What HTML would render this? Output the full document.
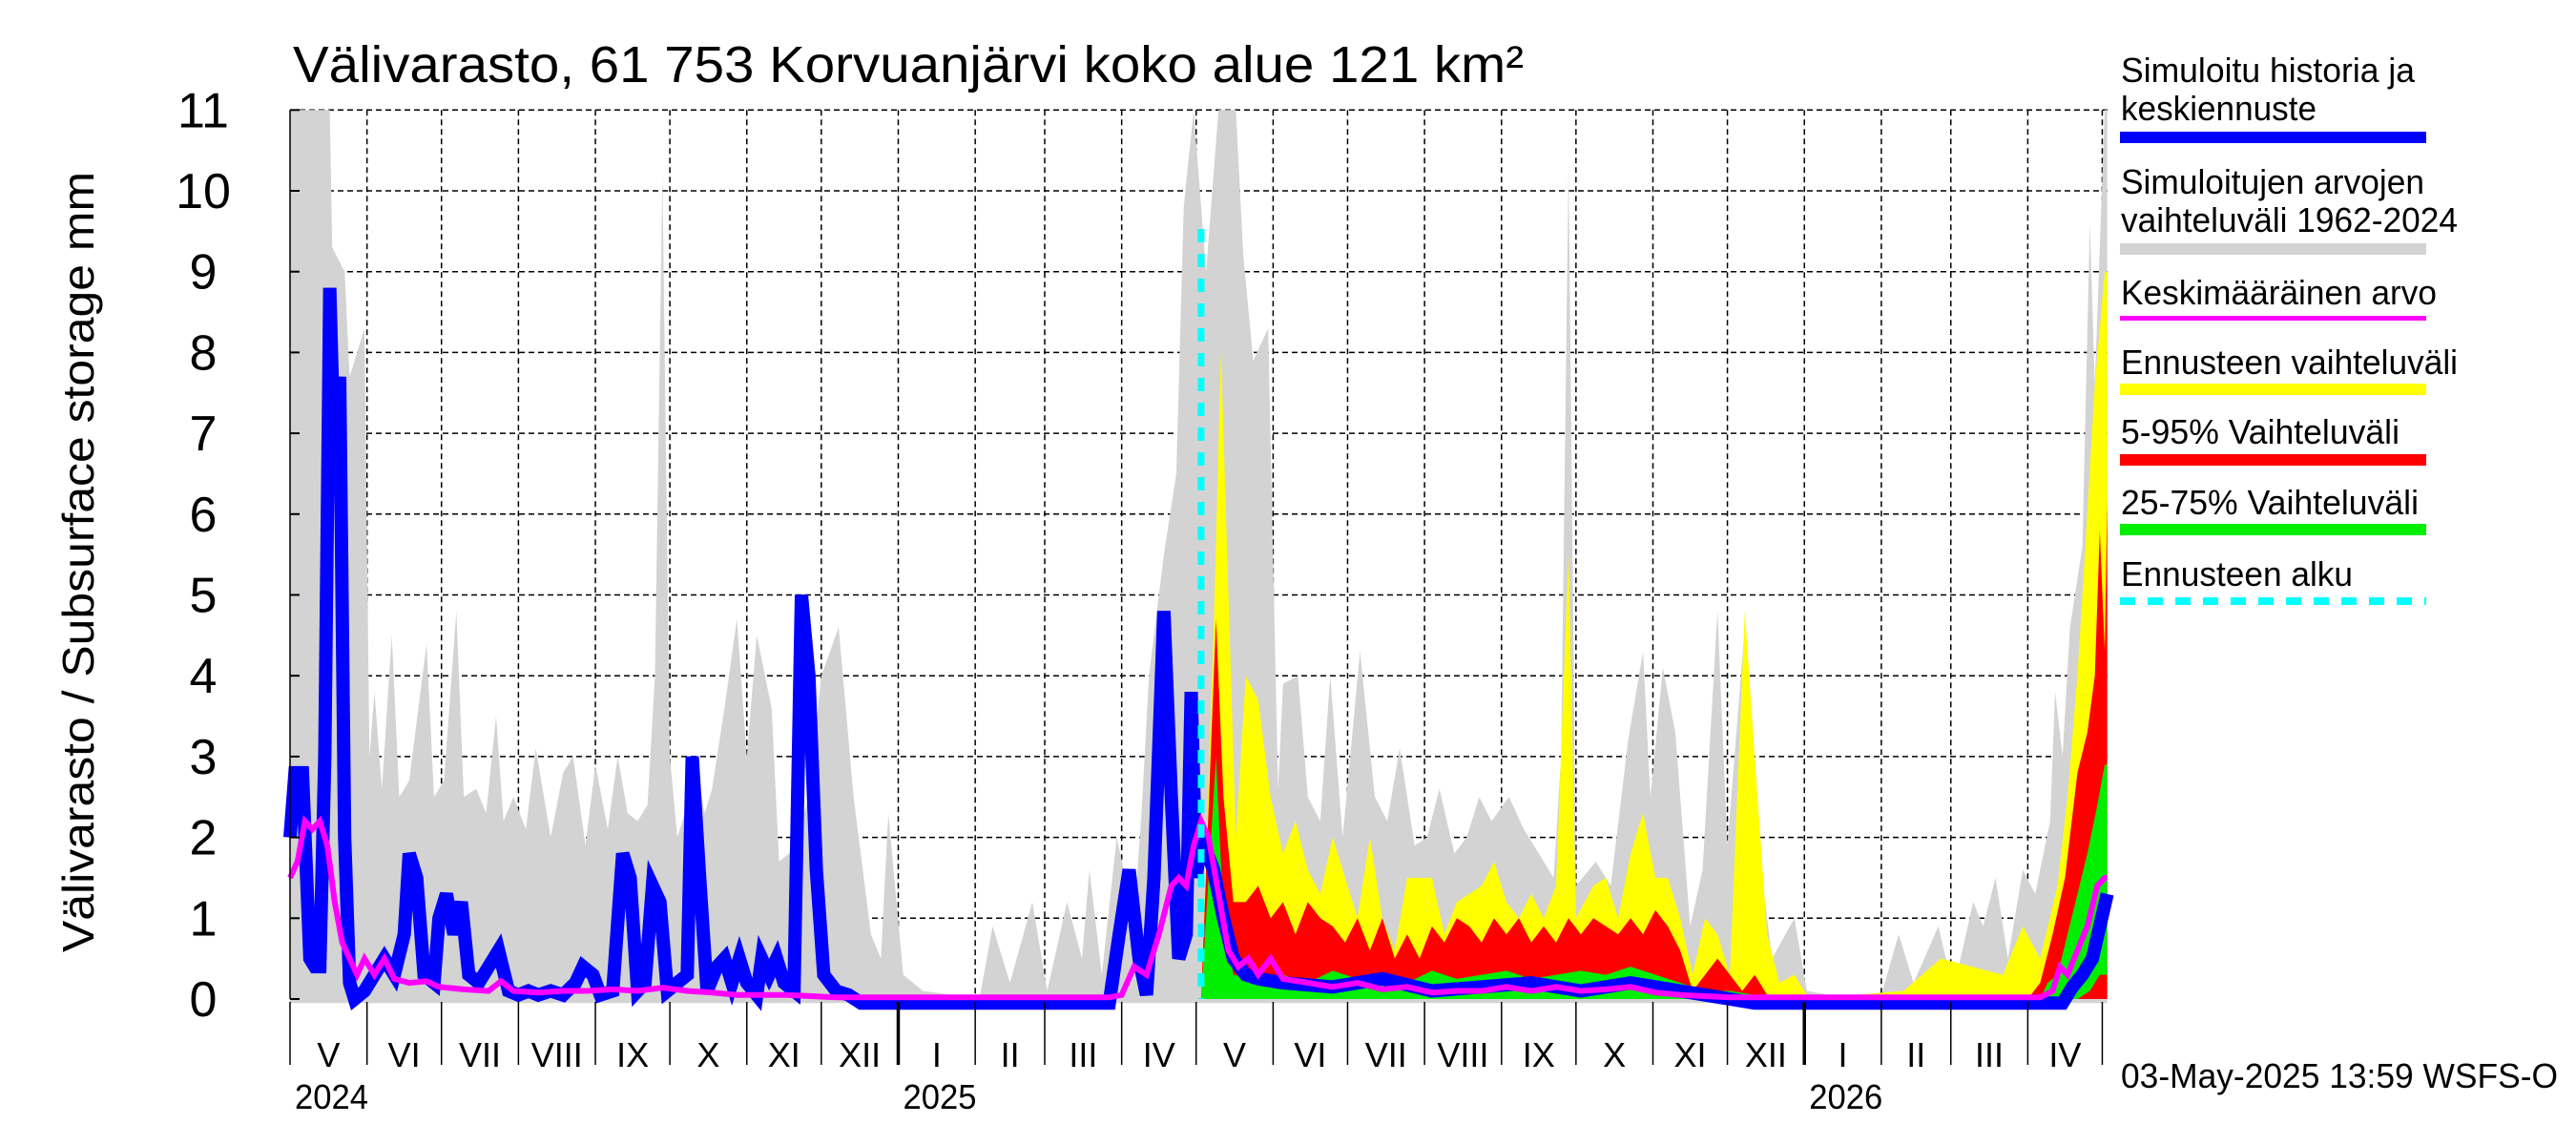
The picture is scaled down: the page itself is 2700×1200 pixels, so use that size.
<!DOCTYPE html>
<html><head><meta charset="utf-8"><title>Välivarasto</title>
<style>
html,body{margin:0;padding:0;background:#fff;}
svg{display:block;font-family:"Liberation Sans",Arial,sans-serif;}
</style></head>
<body>
<svg id="chart" xmlns="http://www.w3.org/2000/svg" width="2700" height="1200" viewBox="0 0 2700 1200">
<rect x="0" y="0" width="2700" height="1200" fill="#fff"/>
<g id="grid"></g>
<g id="data"></g>
<g id="axes"></g>
<text x="307" y="86" font-size="54" textLength="1290" lengthAdjust="spacingAndGlyphs">Välivarasto, 61 753 Korvuanjärvi koko alue 121 km²</text>
<text transform="translate(98,589) rotate(-90)" text-anchor="middle" font-size="46" textLength="818" lengthAdjust="spacingAndGlyphs">Välivarasto / Subsurface storage  mm</text>
<g>
<text x="2223" y="86" font-size="36" textLength="308" lengthAdjust="spacingAndGlyphs">Simuloitu historia ja</text>
<text x="2223" y="126" font-size="36" textLength="205" lengthAdjust="spacingAndGlyphs">keskiennuste</text>
<rect x="2222" y="138" width="321" height="12" fill="#0000ff"/>
<text x="2223" y="203" font-size="36" textLength="318" lengthAdjust="spacingAndGlyphs">Simuloitujen arvojen</text>
<text x="2223" y="243" font-size="36" textLength="353" lengthAdjust="spacingAndGlyphs">vaihteluväli 1962-2024</text>
<rect x="2222" y="255" width="321" height="12" fill="#d3d3d3"/>
<text x="2223" y="319" font-size="36" textLength="331" lengthAdjust="spacingAndGlyphs">Keskimääräinen arvo</text>
<rect x="2222" y="331" width="321" height="5" fill="#ff00ff"/>
<text x="2223" y="392" font-size="36" textLength="353" lengthAdjust="spacingAndGlyphs">Ennusteen vaihteluväli</text>
<rect x="2222" y="402" width="321" height="12" fill="#ffff00"/>
<text x="2223" y="465" font-size="36" textLength="292" lengthAdjust="spacingAndGlyphs">5-95% Vaihteluväli</text>
<rect x="2222" y="476" width="321" height="12" fill="#ff0000"/>
<text x="2223" y="539" font-size="36" textLength="312" lengthAdjust="spacingAndGlyphs">25-75% Vaihteluväli</text>
<rect x="2222" y="549" width="321" height="12" fill="#00ee00"/>
<text x="2223" y="614" font-size="36" textLength="243" lengthAdjust="spacingAndGlyphs">Ennusteen alku</text>
<line x1="2222" y1="630" x2="2543" y2="630" stroke="#00ffff" stroke-width="8" stroke-dasharray="16,13"/>
</g>
<text x="2223" y="1140" font-size="36" textLength="458" lengthAdjust="spacingAndGlyphs">03-May-2025 13:59 WSFS-O</text>
</svg>
<script>
// ---- data ----
const greyDays=[0,16,17,22,24,30,32,34,37,41,44,48,55,58,62,67,70,75,79,83,86,90,95,99,105,110,114,119,123,128,132,136,140,144,147,150,153,156,160,163,167,170,175,180,184,188,194,197,201,204,209,214,221,227,234,238,241,247,255,267,278,283,290,299,305,313,319,322,327,333,340,343,346,352,357,360,364,369,374,381,384,388,394,398,400,406,410,415,419,424,431,437,442,447,453,458,463,469,474,479,484,491,497,503,509,512,515,518,526,532,539,545,548,553,558,564,569,575,579,586,591,597,606,611,620,641,648,654,664,670,678,682,687,692,698,703,709,711,714,717,722,725,727,729,731,732];
const greyMax=[11,11,9.3,9.0,7.7,8.3,3.0,3.8,2.6,4.5,2.5,2.7,4.4,2.5,2.7,4.8,2.5,2.6,2.3,3.5,2.2,2.5,2.1,3.1,2.0,2.8,3.0,1.9,2.9,2.1,3.0,2.3,2.2,2.4,4.0,10.2,3.0,2.0,2.4,3.0,2.3,2.6,3.6,4.7,3.0,4.5,3.6,1.7,1.8,2.0,2.5,4.0,4.6,2.5,0.8,0.5,2.3,0.3,0.1,0.05,0.05,0.9,0.2,1.2,0.1,1.2,0.5,1.6,0.3,2.0,1.0,2.3,4.0,5.5,6.5,9.8,11,9.0,11,11,9.2,7.9,8.3,2.6,3.9,4.0,2.5,2.2,4.0,2.0,4.3,2.5,2.2,3.1,1.9,2.0,2.6,1.8,2.0,2.5,2.2,2.5,2.1,1.8,1.5,3.0,10.3,1.4,1.7,1.4,3.2,4.3,2.5,4.1,3.3,0.9,1.6,4.8,1.9,4.6,2.0,0.5,1.0,0.1,0.05,0.05,0.8,0.2,0.9,0.1,1.2,0.9,1.5,0.5,1.6,1.3,2.2,3.8,3.0,4.6,5.6,9.6,7.6,9.3,11,11];

const yelDays=[367,372,375,378,381,385,390,395,400,405,410,415,420,425,430,435,440,445,450,460,465,470,480,485,490,495,500,505,510,515,518,525,530,535,540,545,550,555,560,565,570,575,580,586,590,595,600,606,612,650,665,690,698,705,712,716,720,723,727,731,732];
const yelMax=[0,4.5,8.0,5.0,2.0,4.0,3.7,2.5,1.8,2.2,1.6,1.3,2.0,1.5,1.0,2.0,1.0,0.6,1.5,1.5,0.8,1.2,1.4,1.7,1.2,1.0,1.3,1.0,1.4,5.5,1.0,1.4,1.5,1.0,1.8,2.3,1.5,1.5,1.0,0.3,1.0,0.8,0.3,4.8,3.0,0.8,0.2,0.3,0,0.1,0.5,0.3,0.9,0.5,1.4,2.5,4.0,5.5,7.6,9.0,9.0];

const redDays=[367,373,376,380,385,390,395,400,405,410,415,420,425,430,435,440,445,450,455,460,465,470,475,480,485,490,495,500,505,510,515,520,525,530,535,540,545,550,555,560,565,570,575,580,585,590,595,600,700,705,710,715,720,724,727,729,731,732];
const red95=[0,4.7,2.5,1.2,1.2,1.4,1.0,1.2,0.8,1.2,1.0,0.9,0.7,1.0,0.6,1.0,0.5,0.8,0.5,0.9,0.7,1.0,0.9,0.7,1.0,0.8,1.0,0.7,0.9,0.7,1.0,0.8,1.0,0.9,0.8,1.0,0.8,1.1,0.9,0.6,0.1,0.3,0.5,0.3,0.1,0.3,0.05,0,0,0.2,0.8,1.5,2.8,3.3,4.0,5.8,4.3,6.2];

const grnDays=[367,373,376,380,390,400,410,420,430,440,450,460,470,480,490,500,510,520,530,540,550,560,570,580,590,600,705,708,712,716,720,724,728,731,732];
const grn75=[0,3.0,1.0,0.3,0.25,0.3,0.2,0.35,0.25,0.3,0.2,0.35,0.25,0.3,0.35,0.25,0.3,0.35,0.3,0.4,0.3,0.2,0.1,0.1,0.05,0,0,0.2,0.3,0.8,1.3,1.8,2.4,2.9,2.9];
const grn25Days=[367,720,725,729,732];
const grn25=[0,0,0.1,0.3,0.3];

const blueDays=[0,2,5,8,10,12,14,16,18,20,22,24,26,30,34,38,42,46,48,51,54,58,60,63,66,69,72,76,80,84,88,92,96,100,105,110,115,118,122,125,130,134,137,140,143,146,149,152,156,160,162,165,168,172,175,178,181,184,188,190,193,196,199,203,206,209,212,215,220,225,230,330,334,338,342,345,348,352,355,358,361,363,365,367,372,376,380,385,390,400,420,440,460,480,500,520,540,560,580,590,600,710,714,718,722,726,729,732];
const blueVal=[2.0,2.8,2.8,0.5,0.4,0.4,3.0,8.8,6.5,7.7,2.0,0.2,0,0.1,0.3,0.5,0.3,0.8,1.8,1.5,0.3,0.2,1.0,1.3,0.8,1.2,0.3,0.2,0.4,0.6,0.1,0.05,0.1,0.05,0.1,0.05,0.2,0.4,0.3,0.05,0.1,1.8,1.5,0.1,0.2,1.4,1.2,0.1,0.2,0.3,3.0,1.5,0.1,0.4,0.5,0.2,0.5,0.2,0.05,0.5,0.3,0.5,0.2,0.1,5.0,4.0,1.6,0.3,0.1,0.05,-0.05,-0.05,0.8,1.6,0.5,0.05,1.5,4.8,2.5,0.5,0.8,3.8,1.5,2.0,1.6,1.0,0.5,0.3,0.25,0.2,0.15,0.25,0.1,0.15,0.2,0.1,0.2,0.1,0.0,-0.05,-0.05,-0.05,-0.05,0.15,0.3,0.5,0.9,1.3,1.4];

const meanDays=[0,3,6,9,12,15,18,21,24,27,30,34,38,42,48,55,60,70,80,85,90,100,110,120,130,140,150,160,170,180,200,220,240,330,335,340,345,350,355,358,361,364,367,370,374,378,382,386,390,395,400,410,420,430,440,450,460,470,480,490,500,510,520,530,540,550,560,580,705,710,713,716,720,724,728,731,732];
const meanVal=[1.5,1.7,2.2,2.1,2.2,1.9,1.2,0.7,0.5,0.3,0.5,0.3,0.5,0.25,0.2,0.22,0.15,0.12,0.1,0.22,0.1,0.08,0.1,0.1,0.12,0.1,0.14,0.1,0.08,0.05,0.05,0.02,0.02,0.02,0.05,0.4,0.3,0.8,1.4,1.5,1.4,1.9,2.2,2.0,1.3,0.6,0.4,0.5,0.3,0.5,0.25,0.2,0.15,0.2,0.12,0.15,0.08,0.1,0.1,0.15,0.1,0.15,0.1,0.12,0.15,0.08,0.05,0.02,0.02,0.1,0.4,0.3,0.6,0.9,1.4,1.5,1.5];

const forecastStartDay=367;
const yTicks=[0,1,2,3,4,5,6,7,8,9,10,11];
const monthLabels=["V","VI","VII","VIII","IX","X","XI","XII","I","II","III","IV","V","VI","VII","VIII","IX","X","XI","XII","I","II","III","IV"];
const yearLabels=["2024","2025","2026"];

// ---- scales ----
const X0=304, PXD=2.602, Y0=1047, PXV=84.7;
function X(d){return X0+d*PXD;}
function Y(v){return Y0-v*PXV;}
const NS="http://www.w3.org/2000/svg";
const gGrid=document.getElementById('grid'), gData=document.getElementById('data'), gAxes=document.getElementById('axes');
function mk(tag,attrs,parent){const e=document.createElementNS(NS,tag);for(const k in attrs)e.setAttribute(k,attrs[k]);parent.appendChild(e);return e;}
function dayOf(y,m){return Math.round((Date.UTC(y,m,1)-Date.UTC(2024,4,1))/86400000);}

for(const v of yTicks){ if(v===0) continue;
  const l=mk('line',{x1:X0,y1:Y(v),x2:2209,y2:Y(v),stroke:'#000','stroke-width':1.5,'stroke-dasharray':'6,4'},gGrid);
  
  
}
const monthStarts=[];
for(let i=0;i<=24;i++){monthStarts.push(dayOf(2024,4+i));}
for(let i=1;i<monthStarts.length;i++){
  const l=mk('line',{x1:X(monthStarts[i]),y1:Y(11),x2:X(monthStarts[i]),y2:Y0,stroke:'#000','stroke-width':1.5,'stroke-dasharray':'6,4'},gGrid);
  
  
}

function areaPath(daysU,up,daysL,lo){
  let d='M'+X(daysU[0])+','+Y(up[0]);
  for(let i=1;i<daysU.length;i++) d+=' L'+X(daysU[i])+','+Y(up[i]);
  for(let i=daysL.length-1;i>=0;i--) d+=' L'+X(daysL[i])+','+Y(lo[i]);
  return d+' Z';
}
function linePath(days,vals){let d='M'+X(days[0])+','+Y(vals[0]);for(let i=1;i<days.length;i++)d+=' L'+X(days[i])+','+Y(vals[i]);return d;}

const zeroDaysAll=[0,732], zeroAll=[-0.05,-0.05];
const pg=mk('path',{d:areaPath(greyDays,greyMax,zeroDaysAll,zeroAll),fill:'#d3d3d3'},gData);


const fz=[forecastStartDay,732], fzv=[0,0];
const py=mk('path',{d:areaPath(yelDays,yelMax,fz,fzv),fill:'#ffff00'},gData);


const pr=mk('path',{d:areaPath(redDays,red95,fz,fzv),fill:'#ff0000'},gData);


const pgr=mk('path',{d:areaPath(grnDays,grn75,grn25Days,grn25),fill:'#00ee00'},gData);


const pb=mk('path',{d:linePath(blueDays,blueVal),fill:'none',stroke:'#0000ff','stroke-width':14,'stroke-linejoin':'miter'},gData);


const pm=mk('path',{d:linePath(meanDays,meanVal),fill:'none',stroke:'#ff00ff','stroke-width':6},gData);


const fc=mk('line',{x1:X(forecastStartDay),y1:240,x2:X(forecastStartDay),y2:Y0,stroke:'#00ffff','stroke-width':7,'stroke-dasharray':'14,12'},gData);



const la=mk('line',{x1:X0,y1:Y(11),x2:X0,y2:Y0,stroke:'#000','stroke-width':1.5},gAxes);


for(const v of yTicks){
  const t=mk('line',{x1:X0,y1:Y(v),x2:X0+10,y2:Y(v),stroke:'#000','stroke-width':2},gAxes);
  
  
  const tx=mk('text',{x:213,y:Y(v)+18,'font-size':52,'text-anchor':'middle'},gAxes);
  tx.textContent=String(v);
  
  
}
for(let i=0;i<monthStarts.length;i++){
  const isYear=(i===8||i===20);
  const t=mk('line',{x1:X(monthStarts[i]),y1:1050,x2:X(monthStarts[i]),y2:1116,stroke:'#000','stroke-width':isYear?3.5:1.5},gAxes);
  
  
  if(i<monthLabels.length){
    const mid=(monthStarts[i]+monthStarts[i+1])/2;
    const tx=mk('text',{x:X(mid),y:1118,'font-size':36,'text-anchor':'middle'},gAxes);
    tx.textContent=monthLabels[i];
    
    
  }
}
const yearDays=[0,monthStarts[8],monthStarts[20]];
for(let i=0;i<yearLabels.length;i++){
  const tx=mk('text',{x:X(yearDays[i])+5,y:1162,'font-size':36,textLength:77,lengthAdjust:'spacingAndGlyphs'},gAxes);
  tx.textContent=yearLabels[i];
  
  
}
</script>
</body></html>
